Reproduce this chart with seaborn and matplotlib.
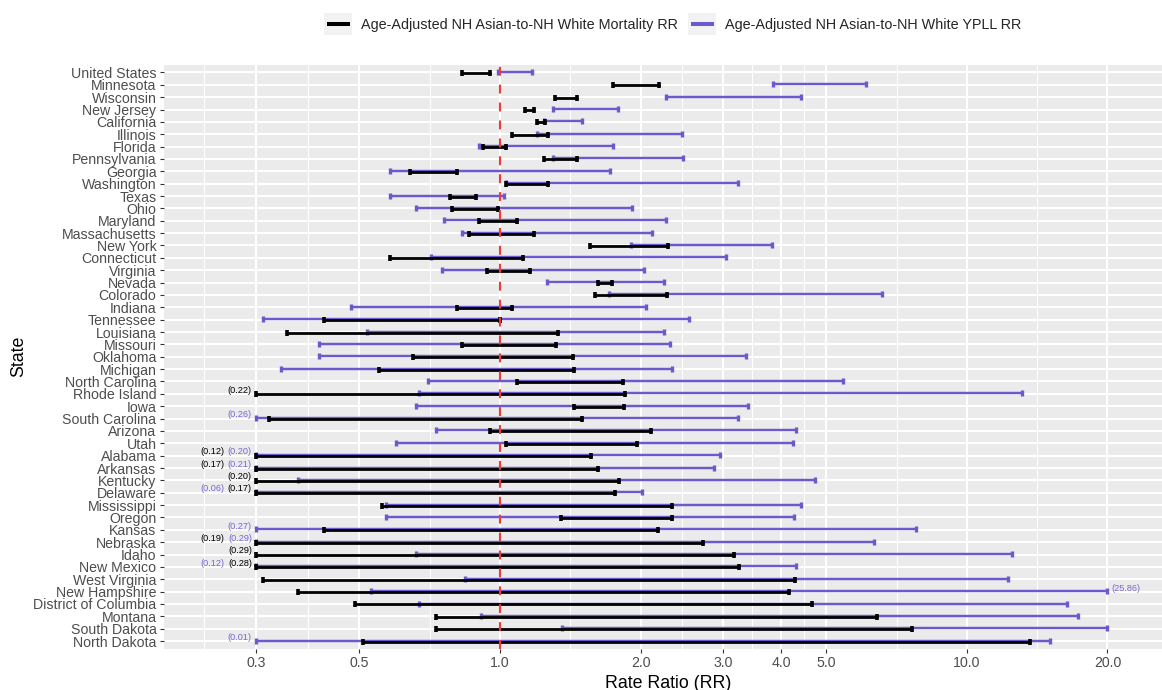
import numpy as np
import pandas as pd
import matplotlib
matplotlib.use("Agg")
import matplotlib.pyplot as plt
from matplotlib.lines import Line2D
from matplotlib.patches import Rectangle
from matplotlib.legend_handler import HandlerLine2D
from matplotlib.ticker import NullFormatter
import seaborn as sns

# ---------------- data ----------------
states = ["United States", "Minnesota", "Wisconsin", "New Jersey", "California",
          "Illinois", "Florida", "Pennsylvania", "Georgia", "Washington", "Texas",
          "Ohio", "Maryland", "Massachusetts", "New York", "Connecticut", "Virginia",
          "Nevada", "Colorado", "Indiana", "Tennessee", "Louisiana", "Missouri",
          "Oklahoma", "Michigan", "North Carolina", "Rhode Island", "Iowa",
          "South Carolina", "Arizona", "Utah", "Alabama", "Arkansas", "Kentucky",
          "Delaware", "Mississippi", "Oregon", "Kansas", "Nebraska", "Idaho",
          "New Mexico", "West Virginia", "New Hampshire", "District of Columbia",
          "Montana", "South Dakota", "North Dakota"]

mort_lo = [0.83, 1.75, 1.31, 1.13, 1.20, 1.06, 0.92, 1.24, 0.64, 1.03, 0.78,
           0.79, 0.90, 0.86, 1.56, 0.58, 0.94, 1.62, 1.60, 0.81, 0.42, 0.35, 0.83,
           0.65, 0.55, 1.09, 0.22, 1.44, 0.32, 0.95, 1.03, 0.12, 0.17, 0.20,
           0.17, 0.56, 1.35, 0.42, 0.19, 0.29, 0.28, 0.31, 0.37, 0.49,
           0.73, 0.73, 0.51]
mort_hi = [0.95, 2.19, 1.46, 1.18, 1.25, 1.27, 1.03, 1.46, 0.81, 1.27, 0.89,
           0.99, 1.09, 1.18, 2.29, 1.12, 1.16, 1.74, 2.28, 1.06, 1.00, 1.33, 1.32,
           1.43, 1.44, 1.83, 1.85, 1.84, 1.50, 2.11, 1.97, 1.57, 1.62, 1.80,
           1.76, 2.33, 2.33, 2.18, 2.72, 3.17, 3.25, 4.29, 4.16, 4.66,
           6.43, 7.63, 13.68]
ypll_lo = [0.99, 3.84, 2.27, 1.30, 1.24, 1.20, 0.90, 1.30, 0.58, 1.03, 0.58,
           0.66, 0.76, 0.83, 1.91, 0.71, 0.75, 1.26, 1.71, 0.48, 0.31, 0.52, 0.41,
           0.41, 0.34, 0.70, 0.67, 0.66, 0.26, 0.73, 0.60, 0.20, 0.21, 0.37,
           0.06, 0.57, 0.57, 0.27, 0.29, 0.66, 0.12, 0.84, 0.53, 0.67,
           0.91, 1.36, 0.01]
ypll_hi = [1.17, 6.07, 4.41, 1.79, 1.50, 2.45, 1.75, 2.46, 1.72, 3.23, 1.02,
           1.92, 2.27, 2.12, 3.82, 3.05, 2.03, 2.25, 6.58, 2.05, 2.54, 2.25, 2.31,
           3.36, 2.33, 5.43, 13.10, 3.39, 3.23, 4.30, 4.25, 2.96, 2.87, 4.72,
           2.01, 4.41, 4.26, 7.78, 6.34, 12.49, 4.30, 12.23, 25.86, 16.41,
           17.33, 19.97, 15.07]

series_names = ["Age-Adjusted NH Asian-to-NH White Mortality RR",
                "Age-Adjusted NH Asian-to-NH White YPLL RR"]
x_breaks = [0.3, 0.5, 1.0, 2.0, 3.0, 4.0, 5.0, 10.0, 20.0]
x_labels = ["0.3", "0.5", "1.0", "2.0", "3.0", "4.0", "5.0", "10.0", "20.0"]
clip_lo, clip_hi = 0.3, 20.0

# ---------------- style ----------------
BLACK = "black"
PURPLE = "#6A5ACD"
sns.set_theme(style="darkgrid", rc={"axes.facecolor": "#EBEBEB",
                                     "grid.color": "white"})
plt.rcParams["font.family"] = ["Liberation Sans", "DejaVu Sans"]

W, H = 1162, 690
fig = plt.figure(figsize=(W / 100, H / 100), dpi=100)
p_left, p_right, p_top, p_bot = 164.3, 1162, 65, 648.5
ax = fig.add_axes([p_left / W, (H - p_bot) / H, (p_right - p_left) / W, (p_bot - p_top) / H])
ax.set_facecolor("#EBEBEB")
ax.set_xscale("log")

# long data frame
rows = []
specs = [(series_names[0], mort_lo, mort_hi, 0.04),
         (series_names[1], ypll_lo, ypll_hi, -0.04)]
for name, los, his, off in specs:
    for i, st in enumerate(states):
        rows.append(dict(state=st, series=name, x=float(np.clip(los[i], clip_lo, clip_hi)), y=i + off, end=0))
        rows.append(dict(state=st, series=name, x=float(np.clip(his[i], clip_lo, clip_hi)), y=i + off, end=1))
df = pd.DataFrame(rows)

d_y = df[df.series == series_names[1]]
d_m = df[df.series == series_names[0]]

sns.lineplot(data=d_y, x="x", y="y", units="state", estimator=None, sort=False,
             color=PURPLE, linewidth=1.75, ax=ax, legend=False, zorder=3)
sns.scatterplot(data=d_y, x="x", y="y", marker="|", s=15, linewidth=2.4,
                color=PURPLE, edgecolor=PURPLE, ax=ax, legend=False, zorder=3)
sns.lineplot(data=d_m, x="x", y="y", units="state", estimator=None, sort=False,
             color=BLACK, linewidth=2.0, ax=ax, legend=False, zorder=4)
sns.scatterplot(data=d_m, x="x", y="y", marker="|", s=15, linewidth=2.6,
                color=BLACK, edgecolor=BLACK, ax=ax, legend=False, zorder=4)

ax.axvline(1.0, color="#F03A3A", lw=1.5, ls=(0, (4.3, 4.3)), zorder=5)

# annotations for clipped values
for i, st in enumerate(states):
    left = []
    if mort_lo[i] < clip_lo:
        left.append((mort_lo[i], BLACK))
    if ypll_lo[i] < clip_lo:
        left.append((ypll_lo[i], PURPLE))
    left.sort(key=lambda t: -t[0])
    offs = [-2.9, -23.0]
    for k, (v, c) in enumerate(left):
        ax.annotate(f"({v:.2f})", xy=(clip_lo, i), xytext=(offs[k], 2.7),
                    textcoords="offset points", ha="right", va="center",
                    fontsize=6.6, color=c, alpha=0.9 if c == PURPLE else 1.0, zorder=6)
    for v, c in [(mort_hi[i], BLACK), (ypll_hi[i], PURPLE)]:
        if v > clip_hi:
            ax.annotate(f"({v:.2f})", xy=(clip_hi, i), xytext=(2.9, 2.0),
                        textcoords="offset points", ha="left", va="center",
                        fontsize=6.6, color=c, alpha=0.9 if c == PURPLE else 1.0, zorder=6)

# axes
xmin = 10 ** ((p_left - 500) / 466.9)
xmax = 10 ** ((p_right - 500) / 466.9)
lb = np.log10(x_breaks)
ext = np.concatenate([[2 * lb[0] - lb[1]], lb, [2 * lb[-1] - lb[-2]]])
minor = 10 ** ((ext[:-1] + ext[1:]) / 2)
minor = minor[(minor > xmin) & (minor < xmax)]
ax.set_xticks(x_breaks)
ax.set_xticklabels(x_labels)
ax.set_xticks(minor, minor=True)
ax.xaxis.set_minor_formatter(NullFormatter())
ax.set_xlim(xmin, xmax)
ax.set_yticks(range(len(states)))
ax.set_yticklabels(states)
ax.set_ylim(len(states) - 1 + 0.6, -0.6)

ax.grid(which="major", color="white", lw=1.45)
ax.grid(which="minor", axis="x", color="white", lw=0.75)
ax.grid(which="minor", axis="y", visible=False)
ax.set_axisbelow(True)
for sp in ax.spines.values():
    sp.set_visible(False)
ax.tick_params(axis="both", which="major", bottom=True, left=True, length=3.2,
               width=0.8, color="#333333", labelcolor="#4D4D4D", labelsize=10.2, pad=2.5)
ax.tick_params(axis="both", which="minor", length=0)

ax.set_xlabel("Rate Ratio (RR)", fontsize=12.8, color="black")
ax.set_ylabel("State", fontsize=12.8, color="black")
ax.xaxis.set_label_coords(0.505, (p_bot - 683) / (p_bot - p_top))
ax.xaxis.label.set_va("center")
ax.yaxis.set_label_coords((18.5 - p_left) / (p_right - p_left), 0.5)
ax.yaxis.label.set_va("center")


# legend with grey key backgrounds
class KeyHandler(HandlerLine2D):
    def create_artists(self, legend, orig_handle, xdescent, ydescent, width, height, fontsize, trans):
        bg = Rectangle((-xdescent, -ydescent), width, height, facecolor="#F2F2F2",
                       edgecolor="none", transform=trans)
        inset = width * 0.09
        ln = Line2D([-xdescent + inset, -xdescent + width - inset],
                    [-ydescent + height / 2] * 2, color=orig_handle.get_color(),
                    lw=orig_handle.get_linewidth(), solid_capstyle="butt", transform=trans)
        return [bg, ln]


handles = [Line2D([], [], color=BLACK, lw=2.9), Line2D([], [], color=PURPLE, lw=2.9)]
fig.legend(handles, series_names, loc="center", bbox_to_anchor=(672.9 / W, 1 - 24 / H),
           ncol=2, frameon=False, fontsize=10.4, handlelength=1.94, handleheight=1.94,
           handletextpad=0.62, columnspacing=0.69, borderpad=0, borderaxespad=0,
           handler_map={Line2D: KeyHandler()})

fig.savefig("out.png", dpi=100)
